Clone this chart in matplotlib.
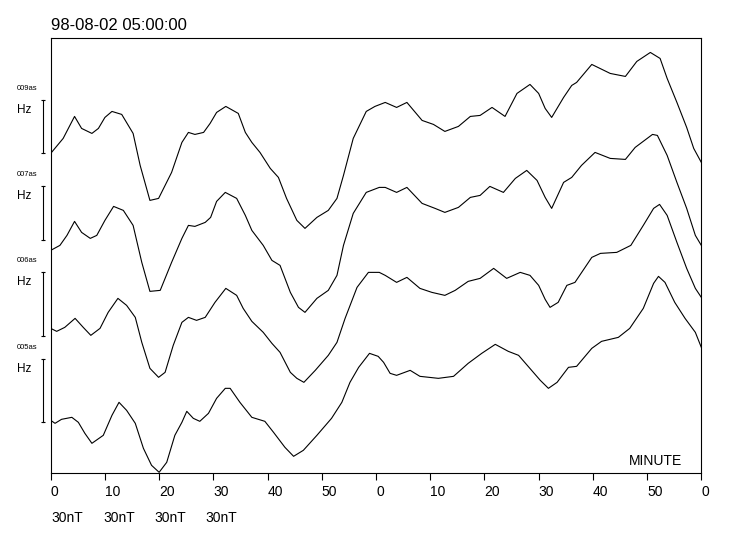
import matplotlib.pyplot as plt
import matplotlib.transforms as mtransforms

plt.rcParams["font.family"] = ["Liberation Sans", "DejaVu Sans"]

# Время (минуты от 05:00) и уровень трасс (условные единицы, снизу вверх)
t_009 = [0, 2.3, 4.4, 5.7, 7.6, 8.8, 10, 11.3, 13.1, 15.2, 16.5, 18.3, 19.9, 22.3, 24.2,
         25.4, 26.6, 28.2, 29.4, 30.6, 32.3, 34.6, 35.9, 37.1, 38.6, 40.5, 42, 43.5, 45.4,
         46.9, 49.1, 51.2, 52.8, 54, 55.8, 58.2, 59.8, 61.7, 63.8, 65.7, 68.5, 70.6, 72.7,
         75.2, 77.4, 79.2, 81.4, 83.8, 86, 88.4, 90, 91.2, 92.4, 94.6, 96.1, 97, 99.8,
         103.2, 106, 108.1, 110.6, 112.4, 113.7, 115.5, 117.3, 118.6, 120]
h_009 = [320, 335, 357, 345, 340, 345, 356, 362, 359, 340, 308, 273, 275, 301, 331,
         341, 339, 341, 350, 361, 367, 360, 341, 331, 321, 305, 296, 275, 253,
         245, 256, 263, 275, 298, 335, 362, 367, 371, 366, 371, 353, 349, 342,
         347, 357, 358, 366, 357, 380, 389, 380, 365, 356, 376, 388, 391, 409,
         400, 397, 412, 421, 415, 395, 371, 346, 325, 311]

t_007 = [0, 1.7, 3, 4.4, 5.7, 7.3, 8.5, 10, 11.6, 13.4, 15.2, 16.8, 18.3, 20.2, 22.3,
         24.2, 25.4, 26.6, 28.5, 29.5, 30.6, 32.2, 34.3, 35.9, 37.1, 39.2, 40.8, 42.3,
         44.2, 45.7, 46.9, 49.1, 51.2, 52.8, 54, 55.8, 58.2, 60.6, 61.7, 63.8, 65.7,
         68.5, 70.9, 72.7, 75.2, 77.4, 79.2, 81, 83.5, 85.7, 87.8, 89.7, 91.2, 92.4,
         94.6, 96.1, 97.9, 100.4, 103.2, 106, 107.8, 111, 111.9, 113.7, 115.5, 117.3,
         118.9, 120]
h_007 = [223, 228, 238, 252, 241, 235, 238, 253, 267, 263, 248, 211, 182, 183, 211,
         235, 248, 247, 251, 256, 272, 281, 275, 258, 243, 228, 213, 208,
         181, 166, 161, 175, 183, 198, 228, 260, 281, 286, 286, 281, 286,
         270, 265, 261, 266, 276, 278, 287, 281, 295, 303, 293, 276, 265,
         291, 296, 308, 321, 315, 314, 326, 339, 338, 318, 291, 265,
         238, 228]

t_006 = [0, 1.1, 2.6, 4.5, 6, 7.4, 9.1, 10.6, 12.4, 14, 15.6, 16.8, 18.3, 19.9, 21.1,
         22.6, 24.2, 25.4, 26.9, 28.5, 30.3, 32.3, 34.3, 35.5, 37.1, 39.2, 40.8, 42.3,
         44.2, 45.4, 46.7, 48.8, 51.2, 52.8, 54.3, 56.5, 58.6, 60.6, 61.7, 63.8, 65.7,
         68.1, 70.3, 72.7, 74.6, 77, 79.2, 81.7, 84.1, 86.6, 88.4, 90, 91.2, 92.1, 93.6,
         95.2, 96.7, 99.8, 101.4, 104.4, 107, 109.3, 111.2, 112.3, 113.7, 115.5, 117.3,
         118.9, 120]
h_006 = [145, 142, 146, 155, 146, 138, 145, 161, 175, 168, 156, 131, 105, 96, 101,
         128, 151, 156, 153, 156, 171, 185, 178, 165, 152, 141, 130, 121,
         101, 95, 91, 103, 118, 131, 155, 186, 201, 201, 198, 191, 196,
         185, 181, 178, 183, 192, 195, 205, 195, 201, 198, 188, 174, 166, 171,
         188, 191, 216, 220, 221, 228, 248, 265, 269, 258, 231, 205,
         185, 176]

t_005 = [0, 0.8, 2, 3.9, 5.1, 6.3, 7.6, 9.7, 11.3, 12.6, 14, 15.6, 17.1, 18.6, 20, 21.4,
         22.9, 24.2, 25.1, 26.3, 27.5, 29.1, 30.6, 32.2, 33.1, 34.9, 37.1, 39.5, 41.1,
         43.2, 44.8, 46.6, 49.1, 51.8, 53.7, 55.2, 56.8, 58.8, 60.4, 61.4, 62.6, 63.8,
         66.3, 68.1, 71.5, 74.3, 77, 79.5, 82, 84.4, 86.3, 88.7, 90.3, 91.8, 93.4, 95.5,
         97, 99.8, 101.6, 104.7, 106.8, 109.3, 111.2, 112.1, 113.3, 115.1, 117, 118.9,
         120]
h_005 = [53, 50, 54, 56, 51, 40, 30, 38, 58, 71, 63, 50, 25, 8, 1, 11,
         38, 51, 62, 55, 52, 60, 75, 85, 85, 71, 56, 52, 41,
         26, 17, 23, 38, 55, 71, 91, 106, 120, 117, 111, 100, 98,
         103, 97, 95, 97, 110, 120, 129, 122, 118, 103, 93, 85, 91, 106,
         107, 125, 132, 136, 145, 165, 190, 197, 191, 171, 155, 141,
         126]

stations = ["009as", "007as", "006as", "005as"]
scale_bottom = [320, 233, 137, 51]   # низ масштабной черты 30 нТл
scale_len = [53, 54, 64, 63]
scale_labels = ["30nT", "30nT", "30nT", "30nT"]
minute_ticks = list(range(0, 121, 10))
minute_labels = [str(m % 60) for m in minute_ticks]

fig = plt.figure(figsize=(7.39, 5.4), dpi=100)
ax = fig.add_axes([0.0686, 0.1235, 0.8804, 0.8053])

for t, h in [(t_009, h_009), (t_007, h_007), (t_006, h_006), (t_005, h_005)]:
    ax.plot(t, h, c="black", lw=0.8)

ax.set_xlim(0, 120)
ax.set_ylim(0, 435)
ax.set_xticks(minute_ticks)
ax.set_xticklabels(minute_labels, ha="left", fontsize=10)
ax.set_yticks([])
ax.tick_params(axis="x", direction="out", length=5, width=0.8, pad=3.5)
for s in ax.spines.values():
    s.set_linewidth(0.8)

# масштабные черты и подписи станций слева от осей
trans = mtransforms.blended_transform_factory(ax.transAxes, ax.transData)
for name, y0, dy in zip(stations, scale_bottom, scale_len):
    ax.plot([-0.0114, -0.0114], [y0, y0 + dy], c="black", lw=0.8,
            marker="_", markersize=3.5, mew=0.8, transform=trans, clip_on=False)
    ax.text(-0.0523, y0 + dy + 10, name, fontsize=5.5, transform=trans, va="baseline")
    ax.text(-0.0523, y0 + dy - 13, "Hz", fontsize=8.5, transform=trans, va="baseline")

ax.text(0.889, 0.019, "MINUTE", fontsize=10, transform=ax.transAxes, va="baseline")

fig.text(0.069, 0.9444, "98-08-02 05:00:00", fontsize=12, va="baseline")
for i, lab in enumerate(scale_labels):
    fig.text(0.070 + i * 0.0693, 0.034, lab, fontsize=10, va="baseline")

fig.savefig("out.png", dpi=100)
